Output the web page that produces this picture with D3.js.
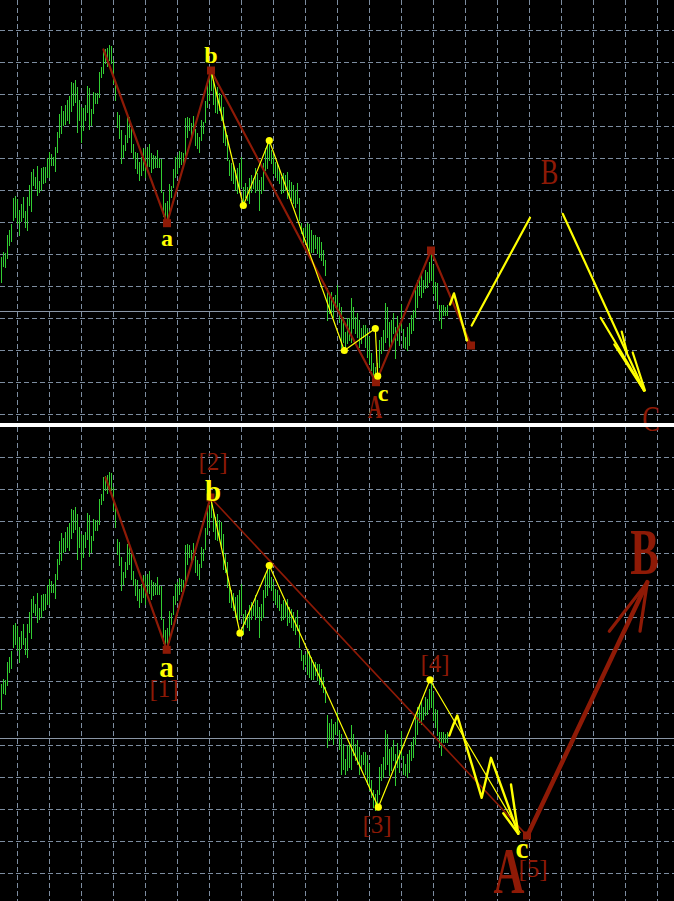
<!DOCTYPE html>
<html><head><meta charset="utf-8">
<script src="https://cdn.jsdelivr.net/npm/d3@7"></script>
<style>html,body{margin:0;padding:0;background:#000;overflow:hidden}svg{display:block}</style>
</head><body><svg id="c" width="674" height="901"></svg>
<script>
// ---- price bars (points), one per bar index ----
const barHigh = [253,258,257,275,280,286,312,314,311,300,
306,313,299,313,325,338,341,333,344,329,
342,343,343,352,358,356,353,363,378,396,
404,399,405,410,414,428,427,430,423,410,
403,402,405,424,422,401,418,417,417,438,
443,460,461,462,465,464,450,430,398,395,
380,365,375,393,393,383,366,358,357,348,
353,362,361,363,366,357,355,354,360,352,
351,318,307,309,326,324,341,353,355,359,
358,357,392,393,392,387,394,381,377,373,
390,388,409,427,432,442,428,420,423,417,
415,403,383,375,350,347,344,340,342,347,
353,323,327,323,332,335,332,342,337,330,
333,347,362,367,370,360,355,348,347,342,
333,337,335,338,330,328,325,320,327,312,
287,282,283,287,286,280,275,275,273,273,
268,260,250,222,214,218,213,215,225,207,
203,193,178,192,192,212,203,193,197,190,
182,185,185,182,173,157,147,143,147,170,
173,180,207,203,188,190,197,183,194,187,
206,181,173,183,187,195,200,220,230,232,
237,230,240,238,248,257,245,228,227,205,
205,205,203,205];
const barLow = [228,244,243,252,265,269,290,293,287,275,
289,293,283,280,305,299,325,322,315,318,
320,327,328,333,333,345,345,339,358,373,
377,385,386,390,387,399,405,408,378,390,
368,380,390,398,381,385,397,407,407,413,
433,437,447,444,450,447,427,410,383,372,
347,353,360,368,373,358,352,342,337,330,
335,340,333,342,344,338,342,343,343,343,
318,294,293,290,295,313,323,333,337,343,
346,346,355,373,380,373,378,365,362,358,
370,377,388,403,410,420,406,398,397,400,
390,368,365,350,335,330,327,320,317,318,
323,303,313,310,307,318,322,318,320,300,
317,320,340,342,350,347,337,333,330,327,
317,318,320,312,315,310,307,303,307,290,
277,268,273,263,260,258,258,262,257,253,
250,245,235,190,197,198,193,203,203,188,
163,168,163,167,170,168,182,177,173,163,
167,173,163,153,147,140,130,127,130,143,
157,160,168,173,162,167,177,152,170,165,
180,163,162,160,165,177,180,193,203,215,
213,218,222,223,228,230,217,210,202,190,
182,195,195,195];
const bidPrice = 199;
const gridBarStep = 16, gridBarStart = 8, gridPriceStep = 32;

// ---- top panel wave marks (bar index, price) ----
const topRedI = [51, 82.75, 104.75, 187.25, 214.75, 234.75];
const topRedP = [461, 287.3, 440, 128.3, 260, 165];
const topYelI = [104.75, 120.9, 133.9, 171.4, 186.9, 188.1];
const topYelP = [440, 305, 370, 160, 182, 134.3];
const topYelBoldI = [224.25, 226.25, 232.75];
const topYelBoldP = [206, 217, 170];
const topProjBI = [235.1, 264.25];
const topProjBP = [185, 292.7];
const topProjCI = [280.6, 321.25];
const topProjCP = [296.7, 120];
const topArrowSegs = [[[299.6,192.7],[321.25,120]],[[306.4,166],[321.25,120]],[[310.1,179],[312.75,158]],[[315.6,158],[321.75,120]]];

// ---- bottom panel wave marks ----
const botRedI = [52, 82.6, 104.5, 262.75];
const botRedP = [460, 287.7, 440, 102];
const botYelI = [104.75, 119.25, 133.9, 188.4, 214.25, 259.25];
const botYelP = [438, 304.3, 372, 130.3, 257.7, 105];
const botYelBoldI = [223.9, 225.75, 227.9, 240.1, 244.75, 258.4];
const botYelBoldP = [202, 212, 222, 139.7, 179.7, 103.7];
const botYelExtra = [[[250.9,124.3],[258.4,103.7]],[[254.75,153],[258,109]]];
const botArrowShaft = [[262.75,101],[322.9,355.3]];
const botArrowHeads = [[[303.9,306.3],[322.9,355.3]],[[319.25,306.3],[322.9,355.3]]];

// ---- labels ----
const topLabels = [
  {t:"b", i:104.75, p:448, kind:"wave"},
  {t:"a", i:82.75, p:265, kind:"wave"},
  {t:"c", i:190.75, p:110, kind:"wave"},
  {t:"A", i:186.75, p:93, kind:"capS"},
  {t:"B", i:274, p:327, kind:"capM"},
  {t:"C", i:324.75, p:80, kind:"capM"}
];
const botLabels = [
  {t:"[2]", i:105.75, p:468, kind:"br"},
  {t:"b", i:105.75, p:437, kind:"waveL"},
  {t:"a", i:82.5, p:261, kind:"waveL"},
  {t:"[1]", i:81.25, p:241, kind:"br"},
  {t:"[3]", i:187.75, p:105, kind:"br"},
  {t:"[4]", i:216.75, p:266, kind:"br"},
  {t:"c", i:260.25, p:80, kind:"waveL"},
  {t:"[5]", i:265.75, p:61, kind:"br"},
  {t:"A", i:253.75, p:45, kind:"capL"},
  {t:"B", i:321.5, p:364, kind:"capL"}
];

const RED = "#8e1a06", YEL = "#ffff00", GREEN = "#32cd32", GRID = "#7d8da0";
const svg = d3.select("#c");
svg.append("rect").attr("width",674).attr("height",901).attr("fill","#000");
const x = d3.scaleLinear().domain([0, 336]).range([1.5, 673.5]);
const y = d3.scaleLinear().domain([0, 480]).range([510.5, 30.5]);
const line = d3.line().x(d => x(d[0])).y(d => y(d[1]));
const defs = svg.append("defs");
defs.append("clipPath").attr("id","clipTop").append("rect").attr("width",674).attr("height",423);
defs.append("clipPath").attr("id","clipBot").append("rect").attr("width",674).attr("height",474);

function basePanel(g, h) {
  const grid = g.append("g").attr("stroke", GRID).attr("stroke-width",1).attr("stroke-dasharray","5,3").attr("shape-rendering","crispEdges");
  grid.selectAll("line.v").data(d3.range(gridBarStart, 337, gridBarStep)).join("line")
    .attr("x1", d => x(d)).attr("x2", d => x(d)).attr("y1", 0).attr("y2", h);
  grid.selectAll("line.h").data(d3.range(0, 481, gridPriceStep)).join("line")
    .attr("x1", 0).attr("x2", 674).attr("y1", d => y(d)).attr("y2", d => y(d));
  g.append("line").attr("x1",0).attr("x2",674).attr("y1",y(bidPrice)).attr("y2",y(bidPrice))
    .attr("stroke","#8a96a6").attr("stroke-width",1).attr("shape-rendering","crispEdges");
  g.append("g").selectAll("line").data(barHigh).join("line")
    .attr("x1",(d,i)=>x(i)).attr("x2",(d,i)=>x(i))
    .attr("y1",d=>y(d)-0.5).attr("y2",(d,i)=>y(barLow[i])+0.5)
    .attr("stroke",GREEN).attr("stroke-width",1).attr("shape-rendering","crispEdges");
}
function path(g, pts, color, w) {
  g.append("path").attr("d", line(pts)).attr("fill","none").attr("stroke",color)
   .attr("stroke-width",w).attr("stroke-linejoin","round").attr("stroke-linecap","round");
}
function squares(g, pts) {
  g.selectAll(null).data(pts).join("rect")
   .attr("x",d=>x(d[0])-4).attr("y",d=>y(d[1])-4).attr("width",8).attr("height",8).attr("fill",RED);
}
function dots(g, pts) {
  g.selectAll(null).data(pts).join("circle")
   .attr("cx",d=>x(d[0])).attr("cy",d=>y(d[1])).attr("r",3.6).attr("fill",YEL);
}
const styles = {
  wave:{size:24, weight:"bold", color:YEL, sx:1},
  waveL:{size:29, weight:"bold", color:YEL, sx:1},
  br:{size:25, weight:"normal", color:RED, sx:1},
  capS:{size:33, weight:"bold", color:RED, sx:0.6},
  capM:{size:35, weight:"normal", color:RED, sx:0.75},
  capL:{size:65, weight:"bold", color:RED, sx:0.66}
};
function labels(g, arr) {
  g.selectAll(null).data(arr).join("text")
   .attr("transform", d => `translate(${x(d.i)},${y(d.p)}) scale(${styles[d.kind].sx},1)`)
   .attr("text-anchor","middle")
   .attr("font-family","'Liberation Serif', 'DejaVu Serif', serif")
   .attr("font-size", d => styles[d.kind].size)
   .attr("font-weight", d => styles[d.kind].weight)
   .attr("fill", d => styles[d.kind].color)
   .text(d => d.t);
}

// top panel
const topG = svg.append("g").attr("clip-path","url(#clipTop)");
basePanel(topG, 423);
path(topG, d3.zip(topRedI, topRedP), RED, 2.2);
path(topG, d3.zip(topYelI, topYelP), YEL, 1.2);
path(topG, d3.zip(topYelBoldI, topYelBoldP), YEL, 2.4);
path(topG, d3.zip(topProjBI, topProjBP), YEL, 2.2);
path(topG, d3.zip(topProjCI, topProjCP), YEL, 2.2);
topArrowSegs.forEach(s => path(topG, s, YEL, 2.2));
squares(topG, d3.zip(topRedI, topRedP).slice(1));
dots(topG, d3.zip(topYelI, topYelP).slice(1));

// bottom panel
const botOuter = svg.append("g").attr("transform","translate(0,427)");
const botG = botOuter.append("g").attr("clip-path","url(#clipBot)");
basePanel(botG, 474);
const botRed = d3.zip(botRedI, botRedP);
path(botG, botRed.slice(0,3), RED, 2.2);
path(botG, botRed.slice(2), RED, 1.6);
const botYel = d3.zip(botYelI, botYelP);
path(botG, botYel, YEL, 1.2);
path(botG, d3.zip(botYelBoldI, botYelBoldP), YEL, 2.4);
botYelExtra.forEach(s => path(botG, s, YEL, 2.4));
path(botG, botArrowShaft, RED, 4.5);
botArrowHeads.forEach(s => path(botG, s, RED, 3.2));
squares(botG, botRed.slice(1));
dots(botG, botYel.slice(1,5));
labels(botOuter, botLabels);

// top labels drawn unclipped, separator on top
labels(svg.append("g"), topLabels);
svg.append("rect").attr("x",0).attr("y",423).attr("width",674).attr("height",4).attr("fill","#fff");
</script></body></html>
